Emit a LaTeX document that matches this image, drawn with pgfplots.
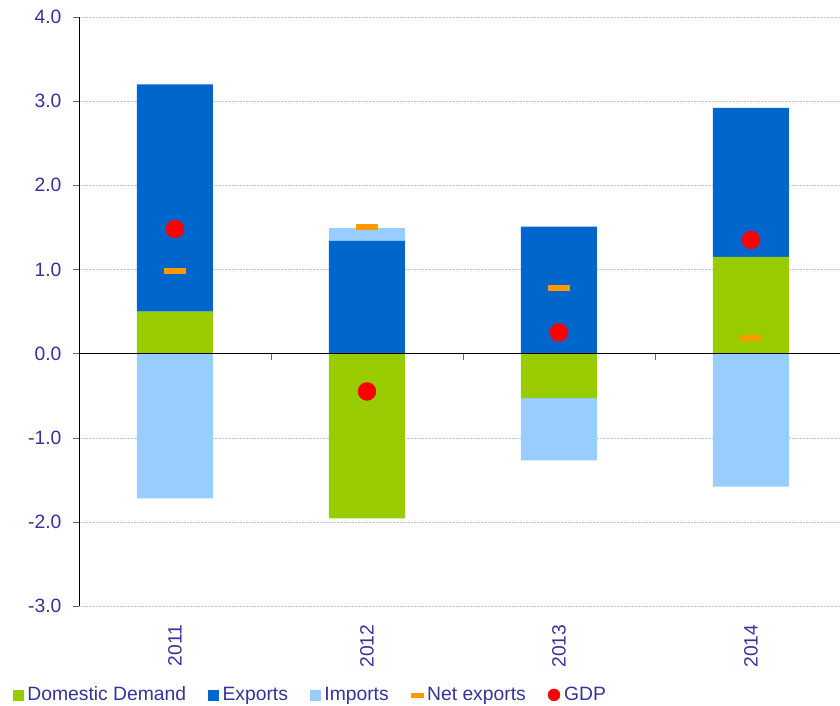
\documentclass[border=0pt]{standalone}
\usepackage{fontspec}
\setmainfont{Liberation Sans}
\usepackage{pgfplots}
\pgfplotsset{compat=1.18}

\definecolor{txtblue}{RGB}{51,51,153}
\definecolor{ddgreen}{RGB}{153,204,0}
\definecolor{expblue}{RGB}{0,102,204}
\definecolor{impblue}{RGB}{153,204,255}
\definecolor{netorange}{RGB}{255,153,0}
\definecolor{gdpred}{RGB}{255,0,0}

\pgfplotsset{
  common/.style={
    at={(0pt,0pt)}, anchor=south west,
    scale only axis, width=761pt, height=589pt,
    xmin=-0.5, xmax=3.464, ymin=-3, ymax=4,
  },
}

\begin{document}
\fontsize{19.3}{23}\selectfont
\begin{tikzpicture}
% positive parts, axis and grid
\begin{axis}[
    common, ybar stacked, bar width=76pt,
    axis lines*=left,
    x axis line style={draw=none},
    y axis line style={black},
    xtick={0,1,2,3}, xticklabels={2011,2012,2013,2014},
    xtick style={draw=none},
    xticklabel style={rotate=90, anchor=east, text=txtblue},
    xticklabel shift=6pt,
    ytick={-3,-2,-1,0,1,2,3,4},
    yticklabels={-3.0,-2.0,-1.0,0.0,1.0,2.0,3.0,4.0},
    yticklabel style={text=txtblue, xshift=-5pt},
    tick align=outside, major tick length=6pt,
    ytick style={gray!80!black},
    ymajorgrids, major grid style={densely dotted, gray!45},
]
\addplot[fill=ddgreen, draw=none] coordinates {(0,0.50)(1,0)(2,0)(3,1.15)};
\addplot[fill=expblue, draw=none] coordinates {(0,2.70)(1,1.34)(2,1.51)(3,1.77)};
\addplot[fill=impblue, draw=none] coordinates {(0,0)(1,0.15)(2,0)(3,0)};
\end{axis}
% negative parts
\begin{axis}[common, ybar stacked, bar width=76pt, hide axis]
\addplot[fill=ddgreen, draw=none] coordinates {(0,0)(1,-1.96)(2,-0.53)(3,0)};
\addplot[fill=impblue, draw=none] coordinates {(0,-1.72)(1,0)(2,-0.74)(3,-1.58)};
\end{axis}
% zero line, markers and legend
\begin{axis}[
    common,
    hide axis,
    legend columns=5,
    legend style={at={(-0.0867,-0.151)}, anchor=west, draw=none, fill=none,
      inner sep=0pt, outer sep=0pt, text=txtblue,
      /tikz/every odd column/.append style={column sep=3pt},
      /tikz/every even column/.append style={column sep=21pt},
      nodes={inner sep=1pt}},
    legend cell align=left,
]
\draw[black, line width=0.9pt] (rel axis cs:0,0.4286) -- (rel axis cs:1,0.4286);
\draw[gray!80!black] (axis cs:0.5,0) -- ++(0pt,-6pt);
\draw[gray!80!black] (axis cs:1.5,0) -- ++(0pt,-6pt);
\draw[gray!80!black] (axis cs:2.5,0) -- ++(0pt,-6pt);
\addplot[forget plot, only marks, color=netorange, mark=-, mark size=11pt,
  mark options={draw=netorange, line width=6pt}]
  coordinates {(0,0.98)(1,1.50)(2,0.78)(3,0.19)};
\addplot[forget plot, only marks, color=gdpred, mark=*, mark size=9pt,
  mark options={fill=gdpred, draw=gdpred}]
  coordinates {(0,1.48)(1,-0.45)(2,0.25)(3,1.35)};
\addlegendimage{legend image code/.code={\fill[ddgreen] (0pt,-5pt) rectangle (10pt,5pt);}}
\addlegendentry{Domestic Demand}
\addlegendimage{legend image code/.code={\fill[expblue] (0pt,-5pt) rectangle (10pt,5pt);}}
\addlegendentry{Exports}
\addlegendimage{legend image code/.code={\fill[impblue] (0pt,-5pt) rectangle (10pt,5pt);}}
\addlegendentry{Imports}
\addlegendimage{legend image code/.code={\fill[netorange] (0pt,-2pt) rectangle (12pt,2pt);}}
\addlegendentry{Net exports}
\addlegendimage{legend image code/.code={\fill[gdpred] (6pt,0pt) circle (6pt);}}
\addlegendentry{GDP}
\end{axis}
\pgfresetboundingbox
\path[use as bounding box] (-79pt,-100pt) rectangle (761pt,606pt);
\end{tikzpicture}
\end{document}
